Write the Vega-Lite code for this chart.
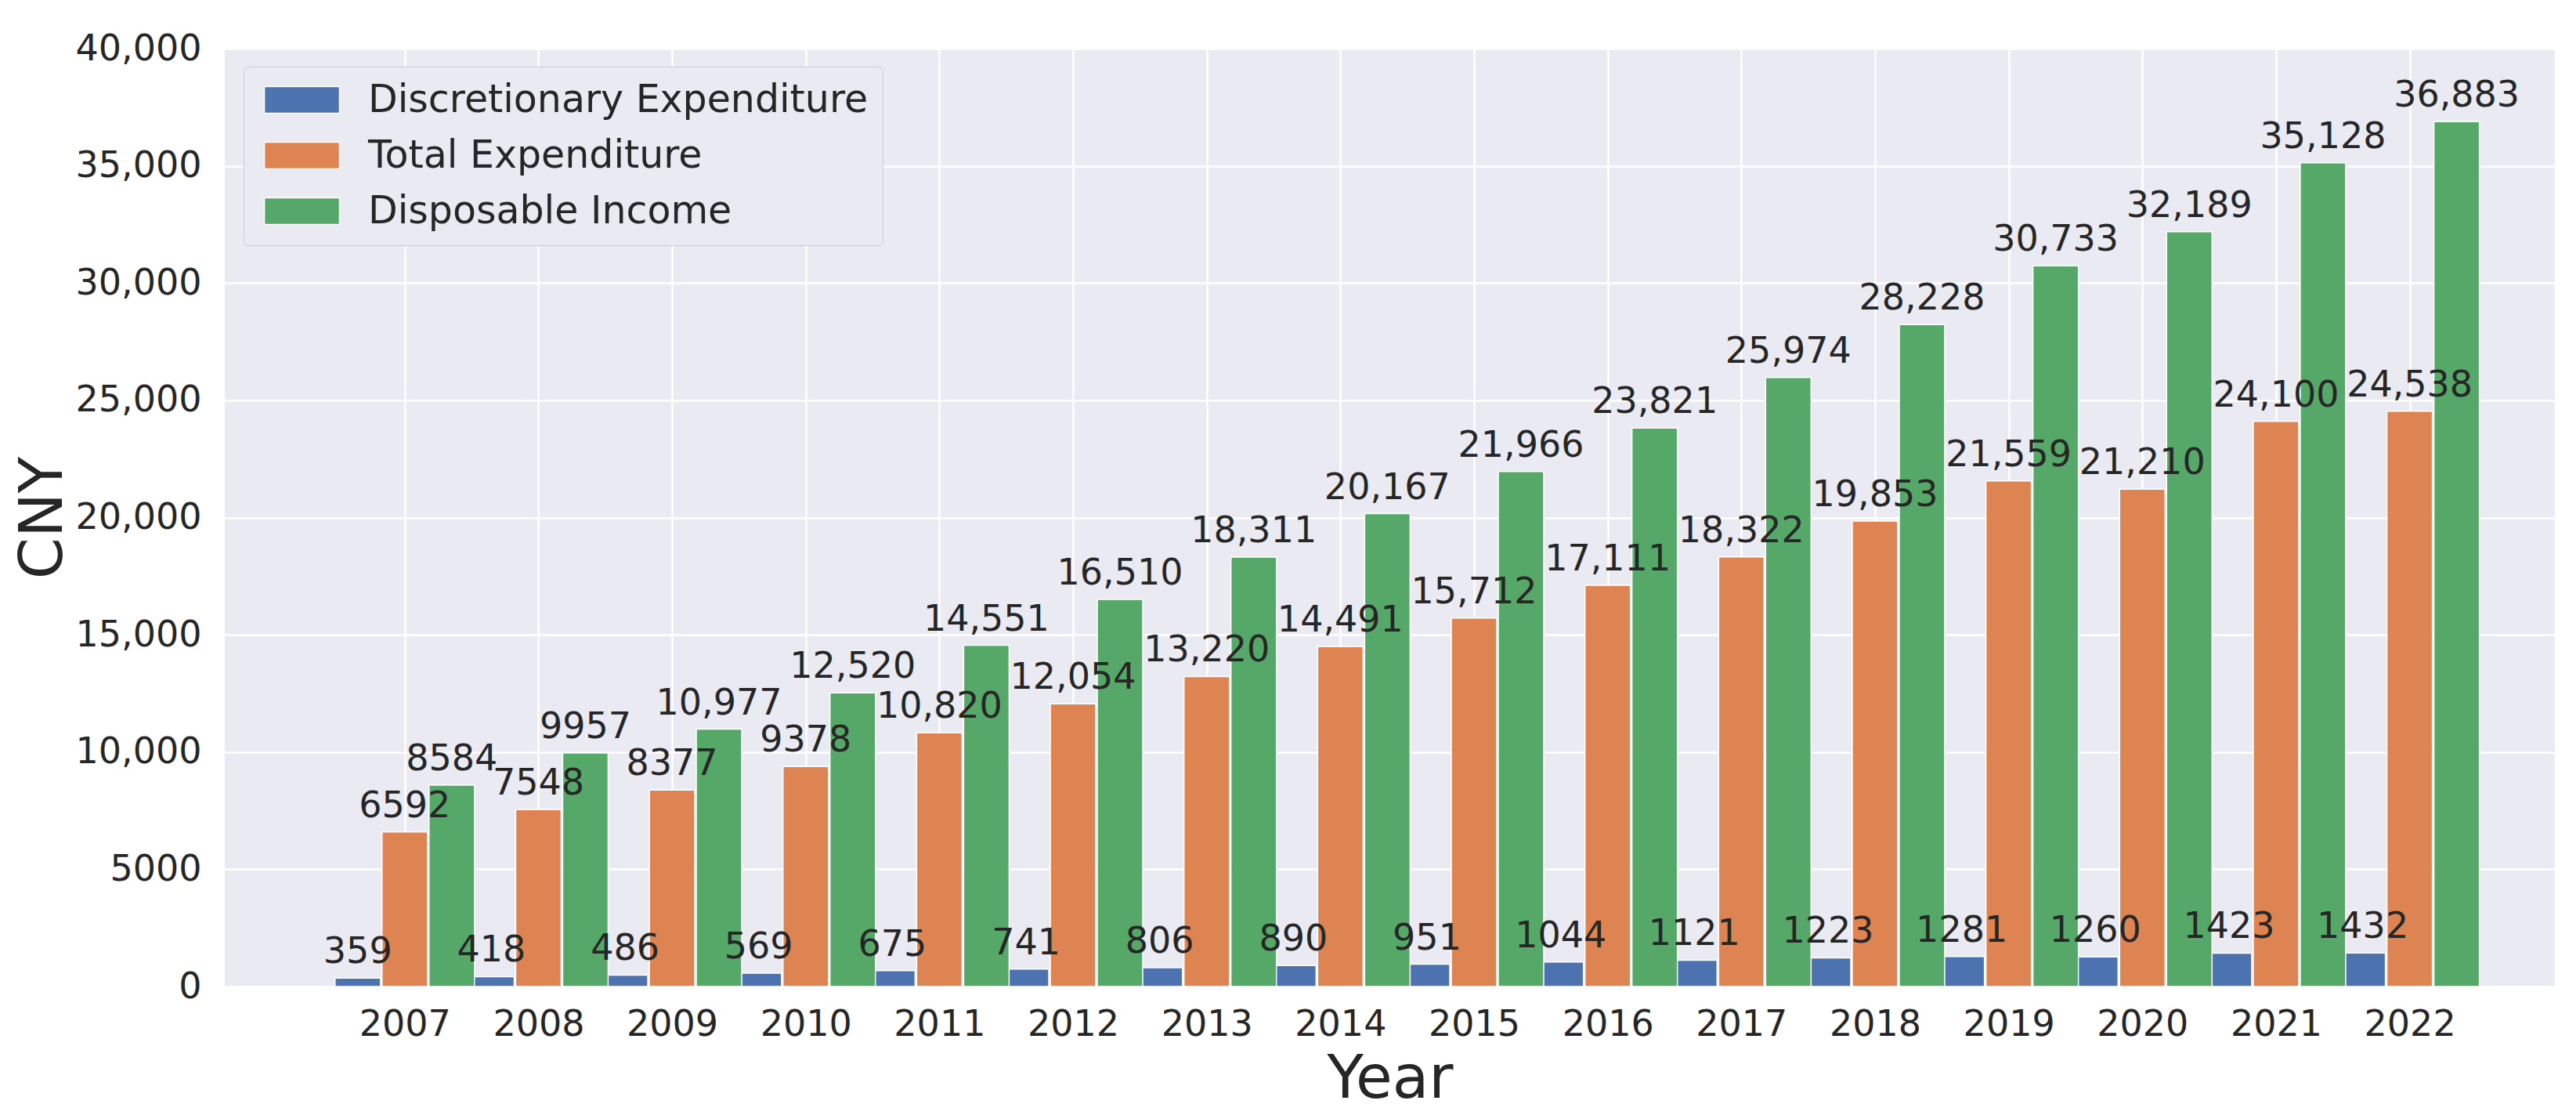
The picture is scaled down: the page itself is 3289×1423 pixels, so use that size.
{
  "$schema": "https://vega.github.io/schema/vega-lite/v6.json",
  "width": 2975,
  "height": 1197,
  "autosize": {"type": "none"},
  "padding": {"left": 287, "top": 62, "right": 27, "bottom": 164},
  "background": "white",
  "config": {
    "view": {"fill": "#EAEAF2", "stroke": null},
    "font": "DejaVu Sans",
    "axis": {
      "domain": false,
      "ticks": false,
      "gridColor": "white",
      "gridWidth": 2.5,
      "gridOpacity": 1,
      "labelFont": "DejaVu Sans",
      "labelFontSize": 46,
      "labelColor": "#262626",
      "titleFont": "DejaVu Sans",
      "titleFontSize": 76,
      "titleFontWeight": "normal",
      "titleColor": "#262626"
    }
  },
  "data": {
    "values": [
      {"year": 2007, "series": "Discretionary Expenditure", "value": 359},
      {"year": 2008, "series": "Discretionary Expenditure", "value": 418},
      {"year": 2009, "series": "Discretionary Expenditure", "value": 486},
      {"year": 2010, "series": "Discretionary Expenditure", "value": 569},
      {"year": 2011, "series": "Discretionary Expenditure", "value": 675},
      {"year": 2012, "series": "Discretionary Expenditure", "value": 741},
      {"year": 2013, "series": "Discretionary Expenditure", "value": 806},
      {"year": 2014, "series": "Discretionary Expenditure", "value": 890},
      {"year": 2015, "series": "Discretionary Expenditure", "value": 951},
      {"year": 2016, "series": "Discretionary Expenditure", "value": 1044},
      {"year": 2017, "series": "Discretionary Expenditure", "value": 1121},
      {"year": 2018, "series": "Discretionary Expenditure", "value": 1223},
      {"year": 2019, "series": "Discretionary Expenditure", "value": 1281},
      {"year": 2020, "series": "Discretionary Expenditure", "value": 1260},
      {"year": 2021, "series": "Discretionary Expenditure", "value": 1423},
      {"year": 2022, "series": "Discretionary Expenditure", "value": 1432},
      {"year": 2007, "series": "Total Expenditure", "value": 6592},
      {"year": 2008, "series": "Total Expenditure", "value": 7548},
      {"year": 2009, "series": "Total Expenditure", "value": 8377},
      {"year": 2010, "series": "Total Expenditure", "value": 9378},
      {"year": 2011, "series": "Total Expenditure", "value": 10820},
      {"year": 2012, "series": "Total Expenditure", "value": 12054},
      {"year": 2013, "series": "Total Expenditure", "value": 13220},
      {"year": 2014, "series": "Total Expenditure", "value": 14491},
      {"year": 2015, "series": "Total Expenditure", "value": 15712},
      {"year": 2016, "series": "Total Expenditure", "value": 17111},
      {"year": 2017, "series": "Total Expenditure", "value": 18322},
      {"year": 2018, "series": "Total Expenditure", "value": 19853},
      {"year": 2019, "series": "Total Expenditure", "value": 21559},
      {"year": 2020, "series": "Total Expenditure", "value": 21210},
      {"year": 2021, "series": "Total Expenditure", "value": 24100},
      {"year": 2022, "series": "Total Expenditure", "value": 24538},
      {"year": 2007, "series": "Disposable Income", "value": 8584},
      {"year": 2008, "series": "Disposable Income", "value": 9957},
      {"year": 2009, "series": "Disposable Income", "value": 10977},
      {"year": 2010, "series": "Disposable Income", "value": 12520},
      {"year": 2011, "series": "Disposable Income", "value": 14551},
      {"year": 2012, "series": "Disposable Income", "value": 16510},
      {"year": 2013, "series": "Disposable Income", "value": 18311},
      {"year": 2014, "series": "Disposable Income", "value": 20167},
      {"year": 2015, "series": "Disposable Income", "value": 21966},
      {"year": 2016, "series": "Disposable Income", "value": 23821},
      {"year": 2017, "series": "Disposable Income", "value": 25974},
      {"year": 2018, "series": "Disposable Income", "value": 28228},
      {"year": 2019, "series": "Disposable Income", "value": 30733},
      {"year": 2020, "series": "Disposable Income", "value": 32189},
      {"year": 2021, "series": "Disposable Income", "value": 35128},
      {"year": 2022, "series": "Disposable Income", "value": 36883}
    ]
  },
  "encoding": {
    "x": {
      "field": "year",
      "type": "quantitative",
      "scale": {"domain": [2005.683, 2023.057], "nice": false, "zero": false},
      "axis": {
        "values": [2007, 2008, 2009, 2010, 2011, 2012, 2013, 2014, 2015, 2016, 2017, 2018, 2019, 2020, 2021, 2022],
        "format": "d",
        "title": "Year",
        "labelPadding": 26,
        "titlePadding": 10
      }
    },
    "y": {
      "field": "value",
      "type": "quantitative",
      "scale": {"domain": [0, 40000], "nice": false},
      "axis": {
        "values": [0, 5000, 10000, 15000, 20000, 25000, 30000, 35000, 40000],
        "labelExpr": "datum.value >= 10000 ? format(datum.value, ',') : format(datum.value, 'd')",
        "title": "CNY",
        "labelPadding": 30,
        "titlePadding": 2
      }
    }
  },
  "layer": [
    {
      "transform": [{"filter": "datum.series === 'Discretionary Expenditure'"}],
      "mark": {"type": "bar", "orient": "vertical", "width": 58, "xOffset": -60, "stroke": "white", "strokeWidth": 1.5},
      "encoding": {
        "color": {
          "field": "series",
          "type": "nominal",
          "scale": {
            "domain": ["Discretionary Expenditure", "Total Expenditure", "Disposable Income"],
            "range": ["#4C72B0", "#DD8452", "#55A868"]
          },
          "legend": {
            "orient": "none",
            "legendX": 24,
            "legendY": 23,
            "title": null,
            "labelFont": "DejaVu Sans",
            "labelFontSize": 49,
            "labelColor": "#262626",
            "labelLimit": 0,
            "symbolType": "M-2.82,-1H2.82V1H-2.82Z",
            "symbolSize": 1156,
            "symbolStrokeColor": "white",
            "symbolStrokeWidth": 1.5,
            "symbolOpacity": 1,
            "symbolOffset": 32,
            "labelOffset": 60,
            "rowPadding": 21,
            "padding": 18,
            "fillColor": "#EAEAF2",
            "strokeColor": "#CCCCCC",
            "cornerRadius": 6
          }
        }
      }
    },
    {
      "transform": [{"filter": "datum.series === 'Total Expenditure'"}],
      "mark": {"type": "bar", "orient": "vertical", "width": 58, "xOffset": 0, "stroke": "white", "strokeWidth": 1.5},
      "encoding": {"color": {"field": "series", "type": "nominal"}}
    },
    {
      "transform": [{"filter": "datum.series === 'Disposable Income'"}],
      "mark": {"type": "bar", "orient": "vertical", "width": 58, "xOffset": 60, "stroke": "white", "strokeWidth": 1.5},
      "encoding": {"color": {"field": "series", "type": "nominal"}}
    },
    {
      "transform": [{"filter": "datum.series === 'Discretionary Expenditure'"}],
      "mark": {"type": "text", "xOffset": -60, "dy": -19, "baseline": "alphabetic", "align": "center", "fontSize": 46, "font": "DejaVu Sans", "color": "#262626"},
      "encoding": {
        "text": {"condition": {"test": "datum.value >= 10000", "field": "value", "type": "quantitative", "format": ","}, "field": "value", "type": "quantitative", "format": "d"}
      }
    },
    {
      "transform": [{"filter": "datum.series === 'Total Expenditure'"}],
      "mark": {"type": "text", "xOffset": 0, "dy": -19, "baseline": "alphabetic", "align": "center", "fontSize": 46, "font": "DejaVu Sans", "color": "#262626"},
      "encoding": {
        "text": {"condition": {"test": "datum.value >= 10000", "field": "value", "type": "quantitative", "format": ","}, "field": "value", "type": "quantitative", "format": "d"}
      }
    },
    {
      "transform": [{"filter": "datum.series === 'Disposable Income'"}],
      "mark": {"type": "text", "xOffset": 60, "dy": -19, "baseline": "alphabetic", "align": "center", "fontSize": 46, "font": "DejaVu Sans", "color": "#262626"},
      "encoding": {
        "text": {"condition": {"test": "datum.value >= 10000", "field": "value", "type": "quantitative", "format": ","}, "field": "value", "type": "quantitative", "format": "d"}
      }
    }
  ]
}
